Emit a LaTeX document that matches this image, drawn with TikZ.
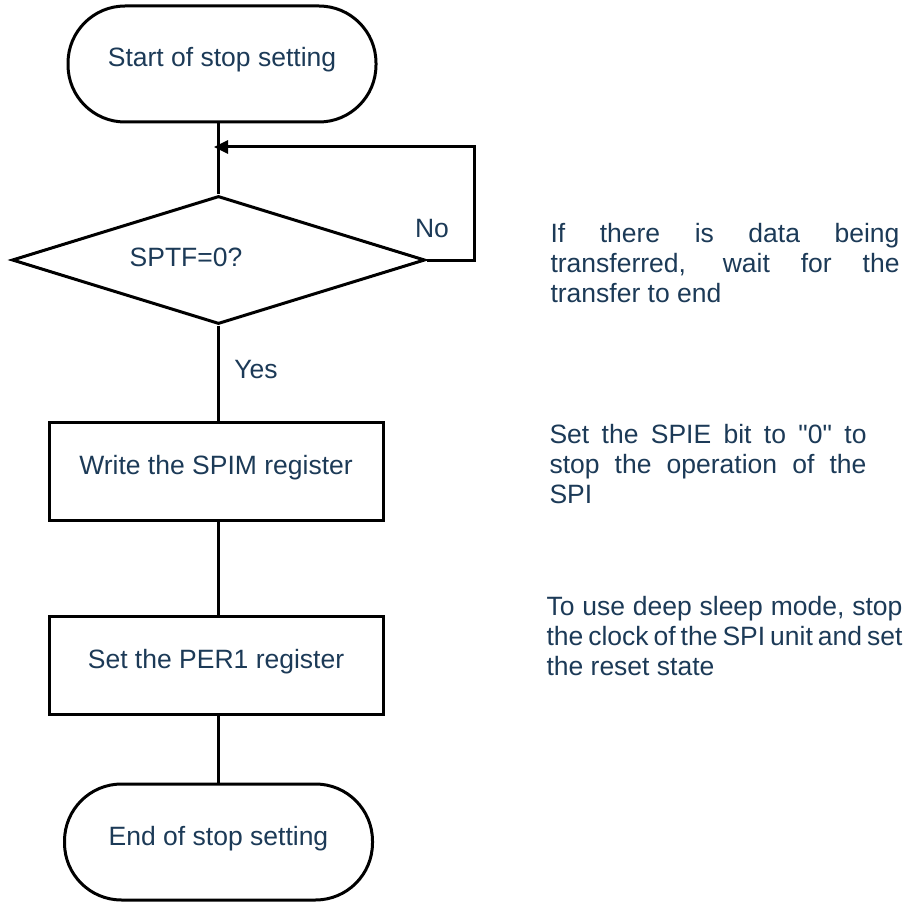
\documentclass[tikz,border=0pt]{standalone}
\usepackage{fontspec}
\setmainfont{Liberation Sans}
\usepackage{xcolor}
\usetikzlibrary{arrows.meta,positioning,shapes.geometric}
\definecolor{txtblue}{HTML}{1C3A57}
\tolerance=10000
\hyphenpenalty=10000

\begin{document}
\begin{tikzpicture}[x=1pt,y=-1pt,line width=3pt,text=txtblue,
  font=\fontsize{26.5}{30}\selectfont,
  term/.style={draw,rounded corners=57pt,minimum width=308pt,minimum height=116pt,
               text height=20pt,text depth=14pt},
  proc/.style={draw,minimum width=334pt,minimum height=98pt,
               text height=20pt,text depth=14pt},
  cond/.style={draw,diamond,minimum width=413pt,minimum height=128pt,inner sep=0pt},
  lbl/.style={inner sep=0pt},
  note/.style={anchor=north west,inner sep=0pt,align=justify}]
  \useasboundingbox (0,0) rectangle (918,904);
  % flow
  \node[term] (start) at (222,64) {Start of stop setting};
  \node[cond] (dec) at (218.5,260) {};
  \node[lbl] (dectxt) at (186,257) {SPTF=0?};
  \node[proc] (spim) at (216,471.5) {Write the SPIM register};
  \node[proc] (per1) at (216,665) {Set the PER1 register};
  \node[term] (stop) at (218.5,842) {End of stop setting};
  \coordinate (join) at (214,147);
  \draw (start.south -| dec.north) -- (dec.north);
  \draw[-{Triangle[length=14pt,width=13pt]}] (dec.east) -- ++(48,0) |- (join);
  \draw (dec.south) -- (spim.north -| dec.south);
  \draw (spim.south -| dec.south) -- (per1.north -| dec.south);
  \draw (per1.south -| dec.south) -- (stop.north -| dec.south);
  \node[lbl] (no) at (432,229) {No};
  \node[lbl] (yes) at (256,370) {Yes};
  % notes
  \node[note,text width=349pt] (n1) at (549,222)
    {If there is data being\linebreak transferred, wait for the\linebreak transfer to end};
  \node[note,text width=317pt] (n2) at (548,423)
    {Set the SPIE bit to \textquotedbl0\textquotedbl{} to\linebreak stop the operation of the\linebreak SPI};
  \node[note,text width=356pt] (n3) at (545,595)
    {To use deep sleep mode, stop\linebreak the clock of the SPI unit and set\linebreak the reset state};
\end{tikzpicture}
\end{document}
